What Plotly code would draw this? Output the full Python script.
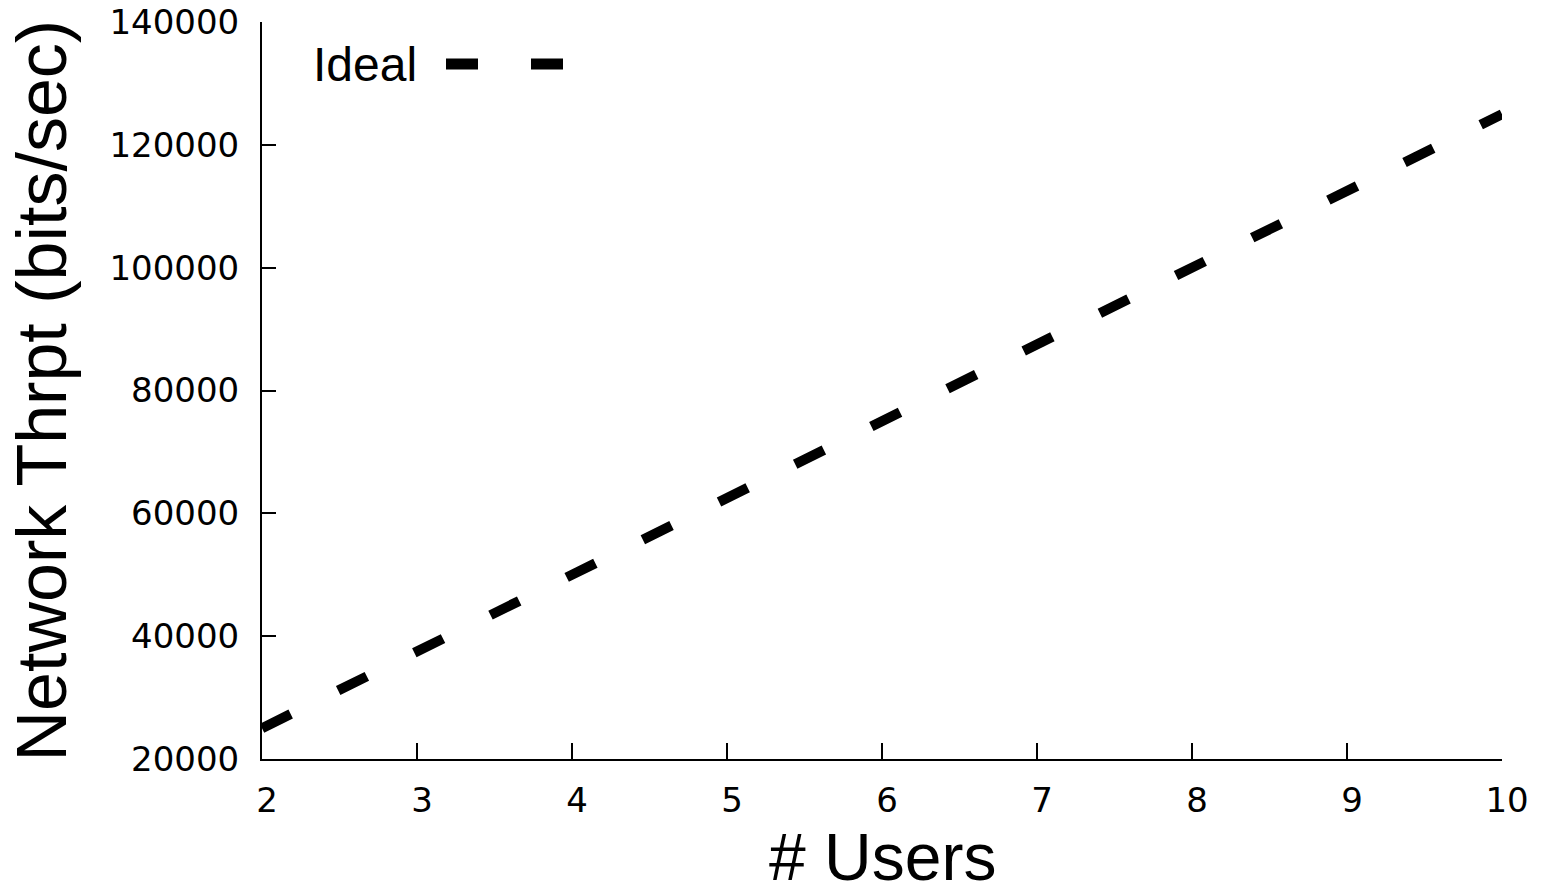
import plotly.graph_objects as go

users = [2, 3, 4, 5, 6, 7, 8, 9, 10]
ideal = [25000, 37500, 50000, 62500, 75000, 87500, 100000, 112500, 125000]
x_ticks = [2, 3, 4, 5, 6, 7, 8, 9, 10]
y_ticks = [20000, 40000, 60000, 80000, 100000, 120000, 140000]
series_name = "Ideal"

DASH = "32px,53px"
L, R, T, B = 262, 39, 22, 135
W, H = 1541, 894
pw = W - L - R
ph = H - T - B

fig = go.Figure()
fig.add_trace(go.Scatter(
    x=users, y=ideal, mode="lines", name=series_name,
    line=dict(color="black", width=10, dash=DASH),
    showlegend=False,
))

tick_font = dict(family="DejaVu Sans", size=34, color="black")
fig.update_xaxes(
    range=[2, 10], tickvals=x_ticks, ticktext=[str(v) for v in x_ticks],
    showline=True, linecolor="black", linewidth=2, mirror=False,
    ticks="inside", ticklen=16, tickwidth=2, tickcolor="black",
    showgrid=False, zeroline=False, tickfont=tick_font,
    ticklabelstandoff=10, ticklabelshift=5, automargin=False,
)
fig.update_yaxes(
    range=[20000, 140000], tickvals=y_ticks, ticktext=[str(v) for v in y_ticks],
    showline=True, linecolor="black", linewidth=2, mirror=False,
    ticks="inside", ticklen=14, tickwidth=2, tickcolor="black",
    showgrid=False, zeroline=False, tickfont=tick_font,
    ticklabelstandoff=14, automargin=False,
)

title_font = "Liberation Sans, Arial, sans-serif"
fig.add_annotation(
    text="Network Thrpt (bits/sec)", xref="paper", yref="paper",
    x=(41 - L) / pw, y=0.5, textangle=-90, showarrow=False,
    xanchor="center", yanchor="middle",
    font=dict(family=title_font, size=70, color="black"),
)
fig.add_annotation(
    text="# Users", xref="paper", yref="paper",
    x=0.5, y=-(857 - (T + ph)) / ph, showarrow=False,
    xanchor="center", yanchor="middle",
    font=dict(family=title_font, size=66, color="black"),
)
# legend
fig.add_annotation(
    text=series_name, xref="paper", yref="paper",
    x=(419 - L) / pw, y=1 - (65 - T) / ph, showarrow=False,
    xanchor="right", yanchor="middle",
    font=dict(family=title_font, size=48, color="black"),
)
fig.add_shape(
    type="line", xref="paper", yref="paper",
    x0=(446 - L) / pw, x1=(564 - L) / pw,
    y0=1 - (64 - T) / ph, y1=1 - (64 - T) / ph,
    line=dict(color="black", width=11, dash="32px,53px"),
)

fig.update_layout(
    width=W, height=H,
    margin=dict(l=L, r=R, t=T, b=B, pad=0, autoexpand=False),
    plot_bgcolor="white", paper_bgcolor="white",
    showlegend=False,
)
fig.write_html(
    "out.html",
    config={"displayModeBar": False},
    post_script="document.body.style.margin='0';document.body.style.overflow='hidden';",
)
